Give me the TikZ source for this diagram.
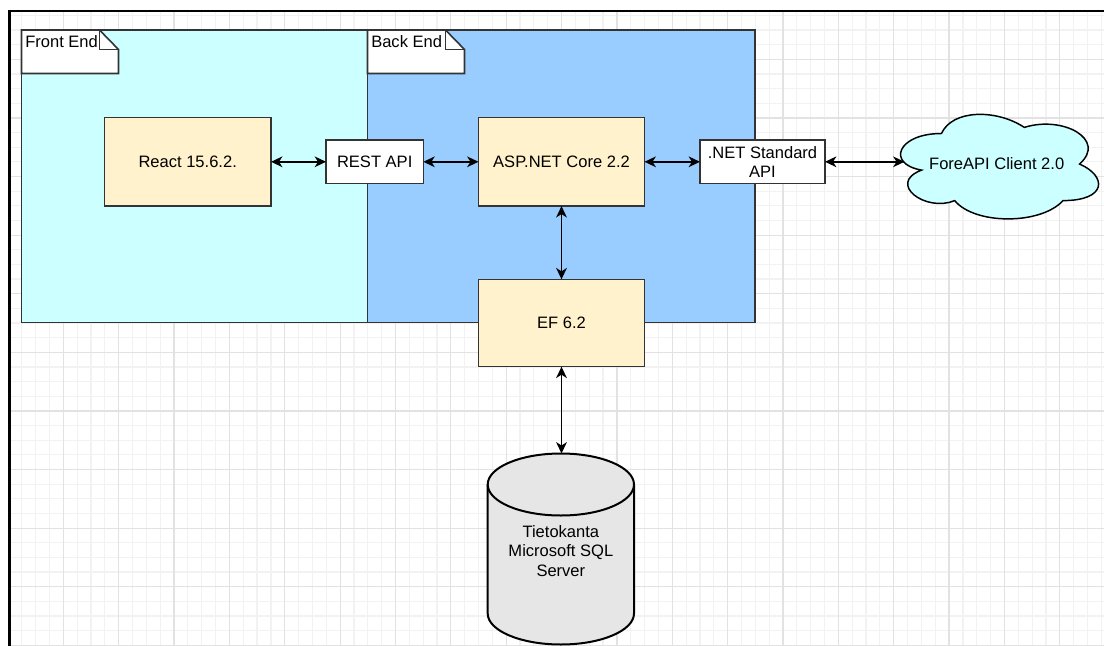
\documentclass[tikz,border=0pt]{standalone}
\usepackage{fontspec}
\setmainfont{Liberation Sans}
\usetikzlibrary{arrows.meta}
\definecolor{feFill}{HTML}{CCFFFF}
\definecolor{beFill}{HTML}{99CCFF}
\definecolor{boxFill}{HTML}{FFF2CC}
\definecolor{dbFill}{HTML}{E6E6E6}
\definecolor{strokeC}{HTML}{333333}
\definecolor{gridMinor}{HTML}{F2F2F2}
\definecolor{gridMajor}{HTML}{E2E2E2}
\begin{document}
\begin{tikzpicture}[x=0.75pt,y=-0.75pt,
  font=\fontsize{12.4}{14.6}\selectfont,
  box/.style={draw=strokeC, line width=1.2pt, fill=boxFill, inner sep=0pt, outer sep=0pt, align=center},
  whitebox/.style={box, fill=white},
  container/.style={draw=strokeC, line width=1.2pt},
  contnode/.style={container, inner sep=0pt, outer sep=0pt, anchor=north west},
  lbl/.style={anchor=base west, inner sep=0pt},
  conn/.style={line width=1.25pt, black, {Stealth[length=8.5pt,width=8pt,inset=2.5pt]}-{Stealth[length=8.5pt,width=8pt,inset=2.5pt]}},
]
\useasboundingbox (0,0) rectangle (1104,646);
\fill[white] (0,0) rectangle (1104,646);
% grid
\begin{scope}
\clip (10.5,12) rectangle (1104,646);
\foreach \k in {-3,...,75} \draw[gridMinor, line width=0.9pt] ({63.3+\k*13.84},12) -- ({63.3+\k*13.84},646);
\foreach \k in {-39,...,4} \draw[gridMinor, line width=0.9pt] (10.5,{586.7+\k*14.65}) -- (1104,{586.7+\k*14.65});
\foreach \k in {-1,...,18} \draw[gridMajor, line width=0.9pt] ({63.3+\k*55.36},12) -- ({63.3+\k*55.36},646);
\foreach \k in {-9,...,1} \draw[gridMajor, line width=0.9pt] (10.5,{586.7+\k*58.6}) -- (1104,{586.7+\k*58.6});
\end{scope}
% outer border
\draw[black, line width=1.7pt] (9.5,646) -- (9.5,11) -- (1104,11);

% containers
\node[contnode, fill=feFill, minimum width=259.5pt, minimum height=219.5pt] (frontend) at (21.5,30) {};
\node[contnode, fill=beFill, minimum width=290.6pt, minimum height=219.5pt] (backend) at (367.5,30) {};
% tabs
\draw[container, fill=white] (21.5,30) -- (99.5,30) -- (118.5,49.5) -- (118.5,73.5) -- (21.5,73.5) -- cycle;
\draw[container] (99.5,30) -- (99.5,49.5) -- (118.5,49.5);
\draw[container, fill=white] (367.5,30) -- (445.5,30) -- (464.5,49.5) -- (464.5,73.5) -- (367.5,73.5) -- cycle;
\draw[container] (445.5,30) -- (445.5,49.5) -- (464.5,49.5);
\node[lbl] (felabel) at (25,47.3) {Front End};
\node[lbl] (belabel) at (371,47.3) {Back End};

% boxes
\node[box, minimum width=125pt, minimum height=66.2pt] (react) at (187.7,161.8) {React 15.6.2.};
\node[whitebox, minimum width=73pt, minimum height=32.6pt] (rest) at (374.7,161.8) {REST API};
\node[box, minimum width=124.5pt, minimum height=66.4pt] (asp) at (561.5,161.8) {ASP.NET Core 2.2};
\node[whitebox, minimum width=93.75pt, minimum height=32.6pt] (netstd) at (762.5,161.8) {.NET Standard\\API};
\node[box, minimum width=124.5pt, minimum height=65.5pt] (ef) at (561.5,323) {EF 6.2};

% cloud
\begin{scope}[shift={(886.2,103)}, x=165.75pt, y=-91.5pt]
\filldraw[fill=feFill, draw=black, line width=1.1pt] (0.25,0.25) .. controls (0.05,0.25) and (0,0.5) .. (0.16,0.55) .. controls (0,0.66) and (0.18,0.9) .. (0.31,0.8) .. controls (0.4,1) and (0.7,1) .. (0.8,0.8) .. controls (1,0.8) and (1,0.6) .. (0.875,0.5) .. controls (1,0.3) and (0.8,0.1) .. (0.625,0.2) .. controls (0.5,0.05) and (0.3,0.05) .. (0.25,0.25) -- cycle;
\node (cloud) at (0.5,0.5) {ForeAPI Client 2.0};
\end{scope}
\coordinate (cloudin) at (904.5,161.8);

% database cylinder
\filldraw[fill=dbFill, draw=black, line width=1.5pt] (487.7,484.5) -- (487.7,613.5) .. controls (487.7,630.6) and (520.45,644.5) .. (560.85,644.5) .. controls (601.25,644.5) and (634,630.6) .. (634,613.5) -- (634,484.5) .. controls (634,467.4) and (601.25,453.5) .. (560.85,453.5) .. controls (520.45,453.5) and (487.7,467.4) .. (487.7,484.5) -- cycle;
\draw[black, line width=1.5pt] (487.7,484.5) .. controls (487.7,501.6) and (520.45,515.5) .. (560.85,515.5) .. controls (601.25,515.5) and (634,501.6) .. (634,484.5);
\node[align=center] (db) at (560.85,551) {Tietokanta\\Microsoft SQL\\Server};
\coordinate (dbtop) at (561.5,453.5);

% connectors
\draw[conn] (react.east) -- (rest.west);
\draw[conn] (rest.east) -- (asp.west);
\draw[conn] (asp.east) -- (netstd.west);
\draw[conn] (netstd.east) -- (cloudin);
\draw[conn] (asp.south) -- (ef.north);
\draw[conn] (ef.south) -- (dbtop);
\end{tikzpicture}
\end{document}
